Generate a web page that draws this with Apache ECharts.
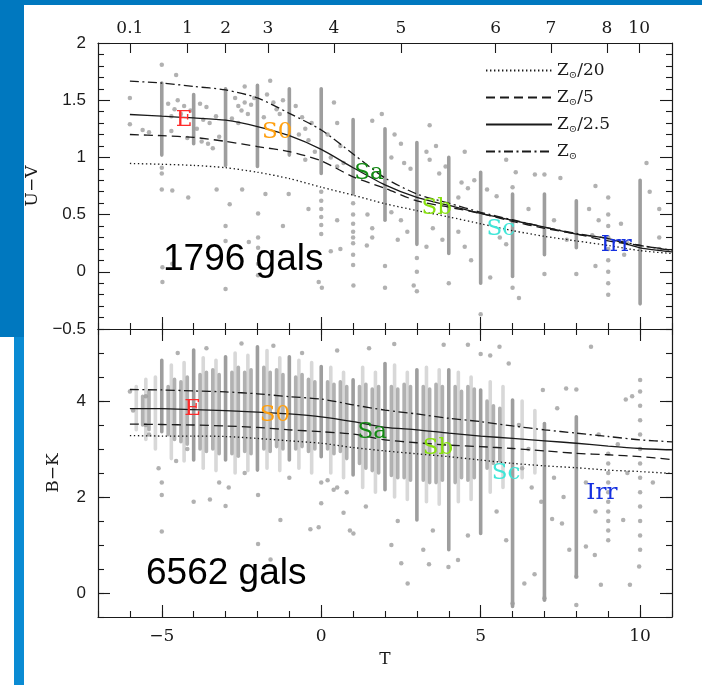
<!DOCTYPE html>
<html><head><meta charset="utf-8">
<script src="https://cdn.jsdelivr.net/npm/echarts@6/dist/echarts.min.js"></script>
<style>html,body{margin:0;padding:0;background:#fff}#c{width:702px;height:685px}</style>
</head><body><div id="c"></div><script>
// Morphological type T sampled for the model colour tracks
const T_GRID = [-6,-5,-4,-3,-2,-1,0,1,2,3,4,5,6,7,8,9,10,11];

// U-V model tracks for four metallicities
const uvZ20  = [0.947,0.94,0.93,0.91,0.87,0.815,0.74,0.67,0.595,0.535,0.48,0.42,0.36,0.31,0.27,0.23,0.185,0.16];
const uvZ5   = [1.20,1.19,1.175,1.14,1.095,1.05,0.97,0.83,0.73,0.62,0.565,0.51,0.44,0.38,0.33,0.27,0.23,0.185];
const uvZ25  = [1.375,1.36,1.345,1.325,1.27,1.19,1.07,0.91,0.76,0.65,0.58,0.51,0.45,0.39,0.33,0.29,0.21,0.175];
const uvZsun = [1.667,1.65,1.62,1.59,1.52,1.385,1.24,1.03,0.82,0.68,0.60,0.52,0.455,0.39,0.335,0.29,0.23,0.19];

// B-K model tracks
const bkZ20  = [3.28,3.27,3.27,3.26,3.22,3.17,3.12,3.03,2.96,2.90,2.84,2.77,2.70,2.65,2.61,2.56,2.53,2.49];
const bkZ5   = [3.52,3.51,3.50,3.48,3.45,3.40,3.36,3.31,3.19,3.13,3.08,3.05,3.01,2.96,2.91,2.88,2.84,2.78];
const bkZ25  = [3.84,3.84,3.82,3.80,3.77,3.73,3.67,3.57,3.45,3.40,3.33,3.27,3.22,3.17,3.12,3.06,3.01,2.98];
const bkZsun = [4.24,4.23,4.21,4.19,4.15,4.09,4.04,3.92,3.81,3.73,3.64,3.57,3.48,3.40,3.33,3.26,3.19,3.15];

const trackNames = ['Z⊙/20','Z⊙/5','Z⊙/2.5','Z⊙'];

// Dense runs of galaxies sharing one T value: [T, low, high]
const uvRuns = [[-5,1.02,1.65],[-4,1.12,1.55],[-3,0.93,1.60],[-2,0.92,1.63],[-1,1.02,1.60],[0,0.86,1.60],
  [1,0.68,1.33],[2,0.45,1.25],[3,0.24,1.13],[4,0.16,1.0],[5,-0.1,0.87],[6,-0.04,0.68],[7,0.15,0.68],
  [8,0.21,0.62],[10,-0.28,0.80]];
// Individual U-V galaxies: [T, U-V]
const uvGals = [[-6,1.52],[-6,1.29],[-5,1.81],[-4.55,1.72],[-4.8,1.47],[-4.5,1.5],[-4.6,1.42],[-4.4,1.38],[-4.7,1.36],
  [-4.3,1.45],[-4.1,1.41],[-3.8,1.47],[-3.6,1.44],[-3.7,1.33],[-3.5,1.30],[-3.3,1.36],[-3.9,1.25],[-4.2,1.17],
  [-4.7,1.23],[-5.4,1.22],[-5.6,1.24],[-3.75,1.14],[-3.55,1.12],[-3.4,1.08],[-3.2,1.18],[-2.7,1.52],[-2.6,1.45],
  [-2.5,1.41],[-2.4,1.48],[-2.3,1.38],[-2.8,1.34],[-2.2,1.46],[-2.6,1.30],[-2.4,1.62],[-2.1,1.52],[-1.6,1.67],
  [-1.7,1.55],[-1.5,1.48],[-1.4,1.42],[-1.3,1.38],[-1.8,1.35],[-1.2,1.5],[-0.8,1.45],[-0.6,1.35],[-0.5,1.25],
  [-0.4,1.15],[-0.3,1.3],[-0.7,1.2],[-0.2,1.05],[-0.5,0.98],[0.4,1.48],[0.5,1.3],[0.6,1.1],[0.3,1.0],[0.5,0.92],
  [0.7,0.95],[0.2,1.2],[-5,0.91],[-5,0.86],[-5,0.72],[-4.67,0.71],[-4.17,0.65],[-3.28,0.72],[-2.48,0.72],
  [-1.75,0.68],[-1.02,0.68],[-2.87,0.59],[-3,0.40],[-1.98,0.51],[-1.98,0.30],[-1.98,0.21],[-2.27,0.26],[-3,0.27],
  [-4.98,0.04],[-4.98,-0.09],[-4.67,0.07],[-3,-0.15],[-1.98,0.07],[-1.98,-0.03],[-0.08,-0.09],[0.02,-0.14],
  [1.01,-0.12],[0,0.7],[0,0.62],[0,0.55],[0,0.48],[0,0.41],[0,0.33],[0.5,0.45],[0.3,0.18],[1,0.6],[1,0.5],
  [1,0.42],[1,0.35],[1,0.3],[1,0.25],[1,0.15],[1,0.06],[1.45,0.5],[1.6,0.38],[1.6,0.3],[1.43,0.23],[0.6,0.2],
  [-0.4,0.55],[-1.2,0.4],[1.6,1.32],[1.9,1.38],[2.3,1.2],[2.5,1.12],[2.2,1.0],[2.6,0.95],[2.8,0.9],[3.3,1.05],
  [3.4,0.98],[3.6,1.1],[3.7,0.86],[3.9,0.92],[4.4,0.78],[4.3,0.65],[4.6,0.73],[4.8,0.80],[5.2,0.72],[5.5,0.66],
  [2.2,0.52],[2.5,0.45],[2.7,0.35],[2.4,0.28],[3.5,0.38],[3.3,0.22],[3.8,0.28],[4.3,0.35],[4.5,0.22],[4.7,0.1],
  [5.6,0.3],[5.8,0.24],[6.5,0.55],[6.7,0.85],[7.5,0.82],[7.3,0.45],[7.7,0.28],[8.4,0.55],[8.7,0.45],[8.5,0.32],
  [9.4,0.42],[9.6,0.25],[9.5,0.15],[10.6,0.3],[10.6,0.2],[10.2,0.95],[8.6,0.05],[7.0,-0.02],[6.0,-0.14],
  [5.3,-0.05],[4,-0.1],[3,-0.17],[2,-0.14],[2,0.05],[3,0.0],[3,0.12],[2.9,-0.12],[5,-0.37],[6.2,-0.23],[8,-0.02],
  [9,-0.2],[9,-0.1],[9,0.0],[9,0.1],[9,0.2],[9,0.3],[9,0.4],[9,0.5],[9,0.65],[5.8,0.98],[4.5,1.05],[3.4,1.28],
  [8.6,0.75],[10.3,0.7],[10.6,0.55],[6.1,0.87],[6,0.74],[7,0.85]];

// B-K dense runs at one T value
const bkRuns = [[-5,3.36,4.85],[-4,2.77,5.06],[-3,2.77,4.92],[-2,2.56,5.13],[-1,2.77,4.92],[0,2.84,4.72],
  [1,2.46,4.44],[2,2.15,4.78],[3,1.52,4.65],[4,0.9,4.65],[5,1.24,4.23],[6,-0.28,4.02],[7,-0.15,3.53],[8,0.34,3.67]];
// Crowded core between the integer runs: [T, low, high]
const bkCore = [[-5.6,3.5,4.1],[-5.4,3.4,4.2],
  [-4.8,3.3,4.3],[-4.6,3.2,4.45],[-4.4,3.15,4.4],[-4.2,3.1,4.5],
  [-3.8,3.0,4.55],[-3.6,2.95,4.6],[-3.4,3.0,4.65],[-3.2,2.9,4.55],
  [-2.8,2.9,4.6],[-2.6,2.85,4.7],[-2.4,2.95,4.6],[-2.2,2.9,4.65],
  [-1.8,3.0,4.7],[-1.6,2.95,4.6],[-1.4,3.05,4.65],[-1.2,3.0,4.55],
  [-0.8,3.0,4.5],[-0.6,3.05,4.55],[-0.4,2.95,4.45],[-0.2,3.0,4.4],
  [0.2,3.0,4.4],[0.4,2.9,4.35],[0.6,2.95,4.4],[0.8,2.8,4.3],
  [1.2,2.7,4.3],[1.4,2.6,4.35],[1.6,2.55,4.25],[1.8,2.5,4.3],
  [2.2,2.45,4.3],[2.4,2.4,4.25],[2.6,2.4,4.35],[2.8,2.35,4.3],
  [3.2,2.35,4.3],[3.4,2.3,4.25],[3.6,2.3,4.35],[3.8,2.35,4.3],
  [4.2,2.3,4.3],[4.4,2.4,4.2],[4.6,2.35,4.3],[4.8,2.4,4.25],
  [5.2,2.6,4.0],[5.4,2.7,3.9],[5.6,2.75,3.85]];
// Thinner outskirts of the crowd
const bkHalo = [[-5.8,3.4,4.3],[-5.5,3.2,4.45],[-5.2,3.0,4.5],
  [-4.7,2.8,4.75],[-4.3,2.75,4.8],[-3.7,2.6,4.9],[-3.3,2.55,4.85],
  [-2.7,2.5,5.0],[-2.3,2.55,4.95],[-1.7,2.6,5.05],[-1.3,2.55,4.9],
  [-0.7,2.6,4.85],[-0.3,2.5,4.8],[0.3,2.5,4.7],[0.7,2.4,4.6],
  [1.3,2.2,4.7],[1.7,2.1,4.6],[2.3,2.0,4.75],[2.7,1.95,4.6],
  [3.3,1.9,4.7],[3.7,1.85,4.65],[4.3,1.9,4.6],[4.7,1.95,4.5],
  [5.3,2.1,4.4],[5.7,2.2,4.3],[6.3,2.4,4.0],[6.7,2.5,3.8]];
// Individual B-K galaxies: [T, B-K]
const bkGals = [[-6,4.2],[-5.5,4.1],[-5.9,3.8],[-5.5,3.5],[-5.4,3.3],[-5.1,2.6],[-5,2.3],[-5,2.04],[-5,1.28],
  [-4.55,2.75],[-4.2,3.0],[-4,1.9],[-3.49,1.95],[-3,1.81],[-2.9,2.2],[-2.4,2.5],[-1.98,2.04],[-1.98,1.02],
  [-1.28,1.52],[-0.34,1.33],[-0.08,1.37],[1.01,1.24],[0.9,1.3],[0.7,1.67],[0.39,2.15],[0,1.87],[0,2.3],
  [0.2,2.35],[0.5,2.2],[-1.59,0.7],[2.29,5.19],[3.84,5.17],[4.6,5.17],[5.59,5.13],[8.46,5.13],[5.0,4.98],
  [5.3,4.95],[5.88,4.78],[9.55,4.03],[9.75,4.1],[7.68,4.26],[8.0,4.24],[6.95,4.23],[7.4,3.85],[2.71,0.2],
  [3.38,0.6],[3.99,0.54],[4.29,0.69],[2.51,0.62],[6.37,0.2],[6.69,0.39],[8.77,0.17],[9.68,0.17],[8.3,0.97],
  [8.58,0.79],[7.78,0.9],[7.24,1.54],[7.55,1.45],[9.47,1.52],[9.97,0.55],[10,0.9],[8,0.34],[6,-0.22],[7,-0.11],
  [8,-0.25],[9,2.9],[9,2.7],[9,2.5],[9,2.3],[9,2.1],[9,1.9],[9,1.7],[9,1.5],[9,1.3],[9,1.1],[10,4.44],[10,4.2],
  [10,3.9],[10,3.6],[10,3.3],[10,3.0],[10,2.7],[10,2.4],[10,2.1],[10,1.8],[10,1.5],[10,1.2],[6.3,2.6],[6.6,2.2],
  [6.9,1.9],[7.3,2.4],[7.6,2.0],[8.3,2.3],[8.6,1.7],[8.7,3.3],[9.3,3.1],[9.6,2.5],[10.4,2.3],[6.2,3.5],[6.5,3.0],
  [-4.5,5.0],[-3.6,5.1],[-2.5,5.2],[-1.5,5.15],[-0.6,5.0],[0.5,5.05],[1.5,5.1],[-3.2,2.3],[-1.0,2.4],[0.8,2.1],
  [1.4,1.8],[2.4,1.5],[3.5,1.3],[4.6,1.2],[5.5,1.7],[5.8,1.1],[2.2,1.0],[3.2,0.9]];

// Type labels placed on the T axis
const typeNames  = ['E','S0','Sa','Sb','Sc','Irr'];
const typeColors = ['#ff2a2a','#ffa010','#138a13','#88e010','#40e6d8','#1530e0'];
const uvTypeT = [-4.3,-1.38,1.5,3.62,5.63,9.25];
const uvTypeV = [1.33,1.22,0.86,0.56,0.37,0.23];
const bkTypeT = [-4.03,-1.45,1.6,3.66,5.8,8.8];
const bkTypeV = [3.83,3.71,3.35,3.02,2.5,2.08];

// Upper axis: tick positions in T and their printed values
const topTickT = [-6,-4.2,-3,-1.67,0.4,2.5,5.47,7.2,8.96,9.97];
const topTickLabels = ['0.1','1','2','3','4','5','6','7','8','10'];
const majorT = [-5,0,5,10];
const bkMajor = [0,2,4];

const zip = (xs, ys) => xs.map((x, i) => [x, ys[i]]);
const minus = v => (v < 0 ? '\u2212' + Math.abs(v) : String(v));
const SERIF = 'DejaVu Serif';
const SANS = 'Liberation Sans';
const INK = '#1a1a1a';
const DOT = '#9e9e9e';

function runItem(width, opacity) {
  return function (params, api) {
    const p0 = api.coord([api.value(0), api.value(1)]);
    const p1 = api.coord([api.value(0), api.value(2)]);
    return {
      type: 'rect',
      shape: { x: p0[0] - width / 2, y: p1[1] - width / 2, width: width, height: p0[1] - p1[1] + width, r: width / 2 },
      style: { fill: DOT, opacity: opacity }
    };
  };
}

const dashes = ['dotted', 'dashed', 'solid', 'dashdot'];
const dashType = { dotted: [1.4, 2.6], dashed: [9, 5], solid: 'solid', dashdot: [9, 3.5, 2, 3.5] };
function tracks(x, y, sets) {
  return sets.map((vals, i) => ({
    type: 'line', name: trackNames[i], xAxisIndex: x, yAxisIndex: y, data: zip(T_GRID, vals),
    symbol: 'none', smooth: 0.25, z: 5,
    itemStyle: { color: 'rgba(0,0,0,0)' },
    lineStyle: { color: INK, width: 1.3, type: dashType[dashes[i]] }
  }));
}
// Type names drawn as text at their (T, colour) positions
function typeLabels(x, y, ts, vs) {
  return {
    type: 'scatter', xAxisIndex: x, yAxisIndex: y, symbolSize: 2, z: 6,
    itemStyle: { color: 'rgba(255,255,255,0)' },
    data: typeNames.map((n, i) => ({ name: n, value: [ts[i], vs[i]],
      label: { color: typeColors[i] } })),
    label: { show: true, position: 'inside', opacity: 1, formatter: p => p.name, fontFamily: SERIF, fontSize: 23 }
  };
}

const lineAx = { show: true, onZero: false, lineStyle: { color: INK, width: 1.2 } };
const noLine = { show: false, onZero: false };
function xAx(grid, pos, opts) {
  return Object.assign({
    type: 'value', gridIndex: grid, position: pos, min: -7, max: 11, interval: 1,
    axisLine: lineAx, splitLine: { show: false }, axisLabel: { show: false },
    axisTick: { inside: true, length: 6, lineStyle: { color: INK, width: 1.1 } }
  }, opts);
}
function yAx(grid, pos, opts) {
  return Object.assign({
    type: 'value', gridIndex: grid, position: pos,
    axisLine: lineAx, splitLine: { show: false }, axisLabel: { show: false },
    axisTick: { inside: true, length: 12, lineStyle: { color: INK, width: 1.1 } }
  }, opts);
}
const majorTick = { inside: true, length: 12, customValues: majorT, lineStyle: { color: INK, width: 1.1 } };

const option = {
  animation: false,
  backgroundColor: '#ffffff',
  graphic: [
    { type: 'rect', z: -10, shape: { x: 0, y: 0, width: 702, height: 5 }, style: { fill: '#0078bf' } },
    { type: 'rect', z: -10, shape: { x: 0, y: 0, width: 24, height: 337 }, style: { fill: '#0078bf' } },
    { type: 'rect', z: -10, shape: { x: 14, y: 337, width: 10, height: 348 }, style: { fill: '#0a8bd3' } }
  ],
  title: [
    { text: '1796 gals', left: 158, top: 236, textStyle: { fontFamily: SANS, fontSize: 37, fontWeight: 'normal', color: '#000' } },
    { text: '6562 gals', left: 141, top: 550, textStyle: { fontFamily: SANS, fontSize: 37, fontWeight: 'normal', color: '#000' } }
  ],
  legend: {
    orient: 'vertical', left: 480, top: 57, itemWidth: 66, itemHeight: 14, itemGap: 9,
    data: trackNames,
    itemStyle: { opacity: 0 },
    formatter: n => '{z|Z}{s|⊙}' + (n.length > 2 ? '{t|' + n.slice(2) + '}' : ''),
    textStyle: {
      color: INK,
      rich: {
        z: { fontFamily: SERIF, fontSize: 17, color: INK },
        s: { fontFamily: SERIF, fontSize: 10, color: INK, verticalAlign: 'bottom', padding: [9, 0, 0, 0] },
        t: { fontFamily: SERIF, fontSize: 17, color: INK }
      }
    }
  },
  grid: [
    { left: 98, top: 43, width: 574, height: 286 },
    { left: 98, top: 329, width: 574, height: 288 }
  ],
  xAxis: [
    xAx(0, 'bottom', {}),
    xAx(0, 'bottom', { axisLine: noLine, axisTick: majorTick }),
    xAx(0, 'top', {
      axisTick: { inside: true, length: 10, customValues: topTickT, lineStyle: { color: INK, width: 1.1 } },
      axisLabel: { show: true, customValues: topTickT, margin: 6, fontFamily: SERIF, fontSize: 17, color: INK,
        formatter: v => { const i = topTickT.indexOf(v); return i >= 0 ? topTickLabels[i] : ''; } }
    }),
    xAx(1, 'bottom', { name: 'T', nameLocation: 'middle', nameGap: 34,
      nameTextStyle: { fontFamily: SERIF, fontSize: 17, color: INK } }),
    xAx(1, 'bottom', { axisLine: noLine, axisTick: majorTick,
      axisLabel: { show: true, customValues: majorT, margin: 11, fontFamily: SERIF, fontSize: 17, color: INK, formatter: minus } }),
    xAx(1, 'top', {}),
    xAx(1, 'top', { axisLine: noLine, axisTick: majorTick })
  ],
  yAxis: [
    yAx(0, 'left', { min: -0.5, max: 2, interval: 0.5,
      minorTick: { show: true, splitNumber: 5, length: 6, lineStyle: { color: INK, width: 1.1 } },
      axisLabel: { show: true, margin: 12, fontFamily: SANS, fontSize: 17, color: INK, formatter: minus },
      name: 'U\u2212V', nameLocation: 'middle', nameGap: 52, nameRotate: 90,
      nameTextStyle: { fontFamily: SERIF, fontSize: 17, color: INK } }),
    yAx(0, 'right', { min: -0.5, max: 2, interval: 0.5,
      minorTick: { show: true, splitNumber: 5, length: 6, lineStyle: { color: INK, width: 1.1 } } }),
    yAx(1, 'left', { min: -0.5, max: 5.5,
      axisTick: { inside: true, length: 12, customValues: bkMajor, lineStyle: { color: INK, width: 1.1 } },
      axisLabel: { show: true, customValues: bkMajor, margin: 12, fontFamily: SANS, fontSize: 17, color: INK, formatter: minus },
      name: 'B\u2212K', nameLocation: 'middle', nameGap: 36, nameRotate: 90,
      nameTextStyle: { fontFamily: SERIF, fontSize: 17, color: INK } }),
    yAx(1, 'left', { min: -0.5, max: 5.5, interval: 0.5, axisLine: noLine,
      axisTick: { inside: true, length: 6, lineStyle: { color: INK, width: 1.1 } } }),
    yAx(1, 'right', { min: -0.5, max: 5.5,
      axisTick: { inside: true, length: 12, customValues: bkMajor, lineStyle: { color: INK, width: 1.1 } } }),
    yAx(1, 'right', { min: -0.5, max: 5.5, interval: 0.5, axisLine: noLine,
      axisTick: { inside: true, length: 6, lineStyle: { color: INK, width: 1.1 } } })
  ],
  series: [
    { type: 'custom', xAxisIndex: 0, yAxisIndex: 0, data: uvRuns, renderItem: runItem(3.6, 1), clip: true, z: 2 },
    { type: 'scatter', xAxisIndex: 0, yAxisIndex: 0, data: uvGals, symbolSize: 4.5, itemStyle: { color: DOT }, z: 3 },
    ...tracks(0, 0, [uvZ20, uvZ5, uvZ25, uvZsun]),
    typeLabels(0, 0, uvTypeT, uvTypeV),
    { type: 'custom', xAxisIndex: 3, yAxisIndex: 2, data: bkHalo, renderItem: runItem(3.6, 0.4), clip: true, z: 2 },
    { type: 'custom', xAxisIndex: 3, yAxisIndex: 2, data: bkCore, renderItem: runItem(3.6, 0.8), clip: true, z: 2 },
    { type: 'custom', xAxisIndex: 3, yAxisIndex: 2, data: bkRuns, renderItem: runItem(3.6, 1), clip: true, z: 2 },
    { type: 'scatter', xAxisIndex: 3, yAxisIndex: 2, data: bkGals, symbolSize: 4.5, itemStyle: { color: DOT }, z: 3 },
    ...tracks(3, 2, [bkZ20, bkZ5, bkZ25, bkZsun]),
    typeLabels(3, 2, bkTypeT, bkTypeV)
  ]
};

const chart = echarts.init(document.getElementById('c'), null, { renderer: 'canvas' });
chart.setOption(option);
</script></body></html>
